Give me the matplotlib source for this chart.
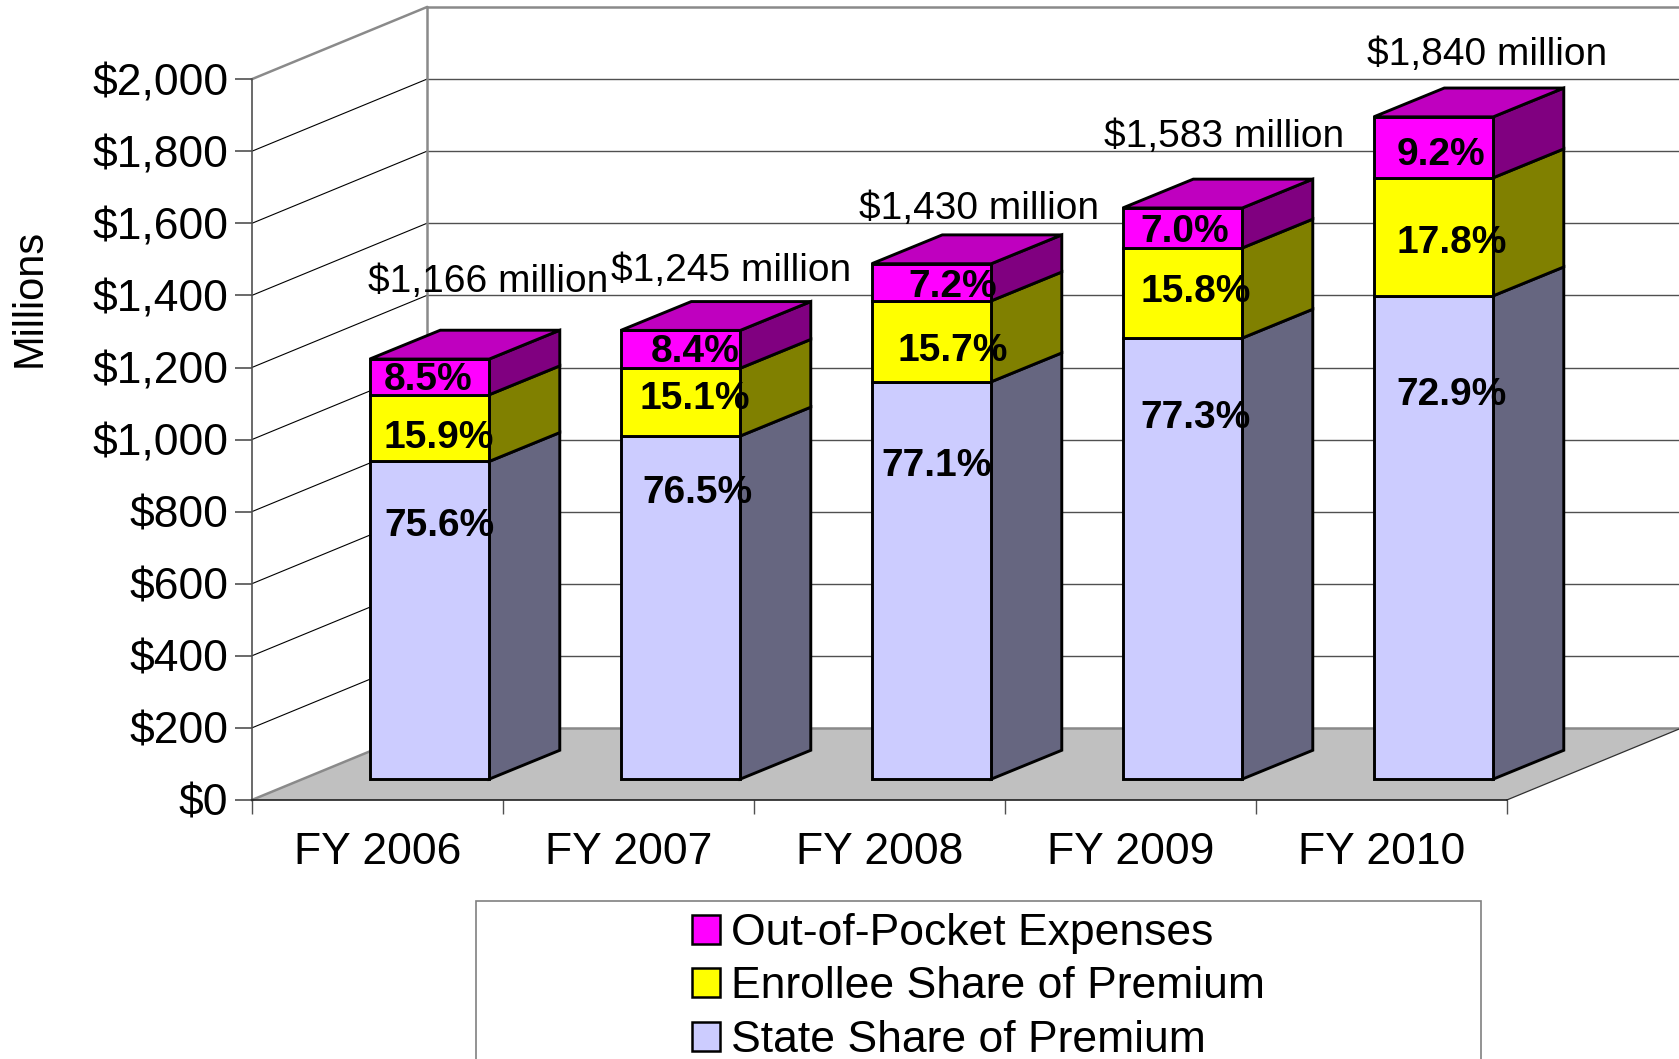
'''
Stacked pseudo-3D bars of premium and out of pocket spending
'''
import matplotlib
matplotlib.use('Agg')
import matplotlib.pyplot as plt
import numpy as np
from matplotlib.patches import Patch, Polygon, Rectangle
from matplotlib.ticker import FuncFormatter
from matplotlib.transforms import Affine2D

W, H = 1679, 1059

years = ['FY 2006', 'FY 2007', 'FY 2008', 'FY 2009', 'FY 2010']
state_share = [881.5, 952, 1102.5, 1223.7, 1341]
enrollee_share = [185, 188, 224.5, 250, 327.5]
out_of_pocket = [99, 105, 103, 111, 169]
state_labels = ['75.6%', '76.5%', '77.1%', '77.3%', '72.9%']
enrollee_labels = ['15.9%', '15.1%', '15.7%', '15.8%', '17.8%']
pocket_labels = ['8.5%', '8.4%', '7.2%', '7.0%', '9.2%']
total_labels = ['$1,166 million', '$1,245 million', '$1,430 million',
                '$1,583 million', '$1,840 million']
y_ticks = np.arange(0, 2001, 200)

# Centres of the labels, in pixels of the picture
total_pos = [(488, 282), (731, 271), (979, 209), (1224, 137), (1487, 55)]
state_pos = [(439, 526), (697, 493), (937, 466), (1196, 418), (1452, 395)]
enrollee_pos = [(439, 438), (695, 399), (953, 351), (1196, 292), (1452, 243)]
pocket_pos = [(428, 380), (695, 352), (953, 287), (1185, 232), (1441, 155)]

# Depth of the room and of the bars, in data units
WALL_DX, WALL_DY = 0.697, 200
BAR_LEFT, BAR_WIDTH = 0.470, 0.476
BAR_BASE = 58
BAR_DX, BAR_DY = 0.281, 80

plt.rcParams['font.family'] = ['Liberation Sans', 'DejaVu Sans']

fig = plt.figure(figsize=(W / 100, H / 100), dpi=100, facecolor='white')
ax = fig.add_axes([251.8 / W, 1 - 800 / H, 1255 / W, 720.8 / H])
ax.set_xlim(0, 5)
ax.set_ylim(0, 2000)
ax.patch.set_visible(False)
pixels = Affine2D().scale(1, -1).translate(0, H)


def add_poly(points, color, edge='black', width=2.1, order=3):
    '''
        Dibuja un poligono en coordenadas de datos
    '''
    ax.add_patch(Polygon(points, closed=True, facecolor=color, edgecolor=edge,
                         linewidth=width, joinstyle='miter', clip_on=False,
                         zorder=order))


def plot_room():
    '''
        Dibuja el suelo, las paredes y la rejilla
    '''
    add_poly([(0, 0), (5, 0), (5 + WALL_DX, WALL_DY), (WALL_DX, WALL_DY)],
             '#c0c0c0', edge='none', width=0, order=1)
    ax.plot([0, WALL_DX], [0, WALL_DY], color='#8a8a8a', lw=1.8, clip_on=False, zorder=1.5)
    ax.plot([WALL_DX, 5 + WALL_DX], [WALL_DY, WALL_DY], color='#8a8a8a', lw=1.8,
            clip_on=False, zorder=1.5)
    ax.plot([5, 5 + WALL_DX], [0, WALL_DY], color='#303030', lw=0.9, clip_on=False, zorder=1.5)
    for value in y_ticks[1:]:
        top = value == y_ticks[-1]
        color = '#8a8a8a' if top else 'black'
        ax.plot([0, WALL_DX], [value, value + WALL_DY], color=color, lw=1.8 if top else 0.8,
                clip_on=False, zorder=1.5)
        ax.plot([WALL_DX, 5 + WALL_DX], [value + WALL_DY] * 2,
                color='#8a8a8a' if top else '#505050', lw=1.8 if top else 1.0,
                clip_on=False, zorder=1.5)
    ax.plot([WALL_DX, WALL_DX], [WALL_DY, 2000 + WALL_DY], color='#8a8a8a', lw=1.8,
            clip_on=False, zorder=1.5)


def plot_bars():
    '''
        Dibuja las columnas apiladas con su cara lateral y superior
    '''
    series = [(state_share, '#ccccff', '#666680'),
              (enrollee_share, '#ffff00', '#808000'),
              (out_of_pocket, '#ff00ff', '#800080')]
    for index in range(len(years)):
        left = index + BAR_LEFT
        right = left + BAR_WIDTH
        bottom = BAR_BASE
        for values, front, side in series:
            top = bottom + values[index]
            add_poly([(right, bottom), (right + BAR_DX, bottom + BAR_DY),
                      (right + BAR_DX, top + BAR_DY), (right, top)], side)
            add_poly([(left, bottom), (right, bottom), (right, top), (left, top)], front)
            bottom = top
        add_poly([(left, bottom), (right, bottom), (right + BAR_DX, bottom + BAR_DY),
                  (left + BAR_DX, bottom + BAR_DY)], '#bf00bf')


def plot_labels():
    '''
        Escribe los porcentajes y los totales
    '''
    for labels, places in ((state_labels, state_pos), (enrollee_labels, enrollee_pos),
                           (pocket_labels, pocket_pos)):
        for label, place in zip(labels, places):
            ax.text(place[0], place[1], label, transform=pixels, fontsize=28,
                    fontweight='bold', ha='center', va='center', color='black',
                    clip_on=False, zorder=6)
    for label, place in zip(total_labels, total_pos):
        ax.text(place[0], place[1], label, transform=pixels, fontsize=28, ha='center',
                va='center', color='black', clip_on=False, zorder=6)


plot_room()
plot_bars()
plot_labels()

# Ejes
for name in ('top', 'right'):
    ax.spines[name].set_visible(False)
ax.spines['left'].set_color('#505050')
ax.spines['left'].set_linewidth(1.2)
ax.spines['bottom'].set_color('#202020')
ax.spines['bottom'].set_linewidth(1.2)
ax.spines['left'].set_zorder(2)
ax.spines['bottom'].set_zorder(2)
ax.set_yticks(y_ticks)
ax.yaxis.set_major_formatter(FuncFormatter(lambda v, _: f'${v:,.0f}'))
ax.tick_params(axis='y', length=12, width=1.2, color='#505050', pad=5, labelsize=32)
ax.set_xticks(np.arange(0, 6))
ax.set_xticklabels([])
ax.set_xticks(np.arange(0.5, 5), labels=years, minor=True)
ax.tick_params(axis='x', which='major', length=10, width=1.0, color='#505050')
ax.tick_params(axis='x', which='minor', length=0, pad=23, labelsize=32)

fig.text(30 / W, 1 - 298 / H, 'Millions', rotation=90, fontsize=30, ha='center', va='center')

# Leyenda, cortada por abajo igual que en la imagen
fig.add_artist(Rectangle((475.5, 900.5), 1005.5, 200, transform=pixels, facecolor='white',
                         edgecolor='#808080', linewidth=1.2))
handles = [Patch(facecolor='#ff00ff', edgecolor='black', linewidth=1.8),
           Patch(facecolor='#ffff00', edgecolor='black', linewidth=1.8),
           Patch(facecolor='#ccccff', edgecolor='black', linewidth=1.8)]
fig.legend(handles, ['Out-of-Pocket Expenses', 'Enrollee Share of Premium', 'State Share of Premium'],
           loc='upper left', bbox_to_anchor=(692 / W, 1 - 913 / H), frameon=False, fontsize=32,
           handlelength=0.63, handleheight=0.63, handletextpad=0.25, labelspacing=0.28,
           borderpad=0, borderaxespad=0)

fig.savefig('out.png', dpi=100)
